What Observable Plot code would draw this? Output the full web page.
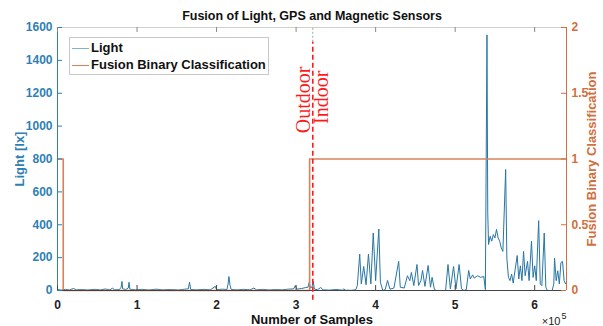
<!DOCTYPE html>
<html><head><meta charset="utf-8">
<script src="https://cdn.jsdelivr.net/npm/d3@7"></script>
<script src="https://cdn.jsdelivr.net/npm/@observablehq/plot@0.6"></script>
<style>
body{margin:0;background:#fff;font-family:"Liberation Sans",Arial,sans-serif;}
#wrap{position:relative;width:603px;height:326px;overflow:hidden;}
.legend{position:absolute;left:69px;top:37px;width:200px;height:38px;border:1px solid #c8c8c8;background:#fff;font-weight:bold;font-size:13px;color:#111;box-sizing:border-box;}
.legend .row{position:absolute;left:2px;height:16px;line-height:16px;white-space:nowrap;}
.legend .sw{display:inline-block;width:17px;height:0;vertical-align:middle;margin-right:2px;}
</style></head><body><div id="wrap"></div>
<script>
const titleText = "Fusion of Light, GPS and Magnetic Sensors";
const xLabel = "Number of Samples";
const yLeftLabel = "Light [lx]";
const yRightLabel = "Fusion Binary Classification";
const seriesNames = ["Light", "Fusion Binary Classification"];
const regionLabels = ["Outdoor", "Indoor"];

// x in units of 10^5 samples
const xTicks = [0, 1, 2, 3, 4, 5, 6];
const leftTicks = [0, 200, 400, 600, 800, 1000, 1200, 1400, 1600];
const rightTicks = [0, 0.5, 1, 1.5, 2];

const lightSamples = [0.00,0.05,0.10,0.15,0.20,0.24,0.30,0.38,0.46,0.54,0.60,0.66,0.69,0.72,0.78,0.80,0.81,0.82,0.86,0.89,0.90,0.91,0.98,1.06,1.15,1.24,1.32,1.42,1.52,1.60,1.645,1.66,1.675,1.75,1.84,1.92,1.985,2.00,2.07,2.13,2.145,2.155,2.17,2.185,2.26,2.34,2.42,2.47,2.50,2.58,2.66,2.74,2.82,2.90,2.97,2.99,3.01,3.07,3.12,3.15,3.165,3.18,3.20,3.215,3.23,3.27,3.31,3.34,3.42,3.50,3.58,3.60,3.62,3.70,3.75,3.77,3.80,3.82,3.85,3.88,3.91,3.94,3.97,4.00,4.04,4.06,4.09,4.12,4.15,4.18,4.23,4.29,4.31,4.36,4.40,4.43,4.45,4.48,4.52,4.54,4.57,4.59,4.62,4.66,4.69,4.71,4.74,4.77,4.88,4.91,4.94,4.98,5.01,5.05,5.08,5.11,5.14,5.17,5.19,5.22,5.24,5.28,5.32,5.36,5.38,5.40,5.41,5.42,5.44,5.46,5.48,5.50,5.52,5.54,5.56,5.58,5.60,5.635,5.65,5.67,5.69,5.71,5.73,5.755,5.78,5.80,5.82,5.84,5.86,5.88,5.91,5.93,5.96,5.98,6.00,6.02,6.05,6.07,6.09,6.12,6.14,6.16,6.22,6.24,6.25,6.27,6.29,6.31,6.33,6.35,6.37,6.39,6.40];
const lightLux = [5,3,7,3,12,4,6,3,7,4,9,4,14,4,6,20,55,10,6,15,50,8,4,7,3,8,4,6,3,8,10,50,6,4,7,4,25,5,8,6,40,85,30,6,4,7,4,15,4,7,3,6,4,8,10,30,8,12,18,20,50,15,22,55,8,5,18,4,2,6,2,10,2,1,5,30,221,40,146,35,221,40,350,60,374,50,0,5,61,8,15,177,20,15,90,60,110,30,158,30,60,122,25,152,20,80,5,0,0,158,10,146,10,158,10,0,5,122,70,95,75,90,80,85,5,1555,472,280,330,300,340,320,372,320,300,258,238,736,197,80,60,100,45,130,213,70,150,60,238,90,177,60,300,80,150,60,425,40,30,350,20,0,0,40,197,60,120,40,170,177,60,40,50];

const classSamples = [0, 0.072, 3.17, 6.4];
const classValues = [1, 0, 1, 1];
const boundarySample = 3.21;

const classToLux = 1600 / 2; // right axis 0..2 shares the frame with left axis 0..1600

const BLUE = "#2f7fb5", LINEBLUE = "#2776a4", ORANGE = "#d0703e", LINEORANGE = "#d9825a";

const light = lightSamples.map((s, i) => ({s, v: lightLux[i]}));
const cls = classSamples.map((s, i) => ({s, v: classValues[i] * classToLux}));

const plot = Plot.plot({
  width: 603, height: 326,
  marginLeft: 57, marginRight: 37, marginTop: 27, marginBottom: 36,
  style: {fontFamily: "Liberation Sans, Arial, sans-serif", fontSize: "12px", background: "white", overflow: "visible"},
  x: {domain: [0, 6.4]},
  y: {domain: [0, 1600]},
  marks: [
    Plot.line(light, {x: "s", y: "v", stroke: LINEBLUE, strokeWidth: 1}),
    Plot.line(cls, {x: "s", y: "v", curve: "step-after", stroke: LINEORANGE, strokeWidth: 1.6}),
    // frame
    Plot.ruleY([1600], {stroke: "#d0d0d0"}),
    Plot.ruleY([0], {stroke: "#444"}),
    Plot.ruleX([0], {stroke: BLUE}),
    Plot.ruleX([6.4], {stroke: ORANGE}),
    // inward ticks
    Plot.tickY(leftTicks, {insetRight: 504, stroke: BLUE}),
    Plot.tickY(rightTicks.map(d => d * classToLux), {insetLeft: 504, stroke: ORANGE}),
    Plot.tickX(xTicks, {insetTop: 258, stroke: "#444"}),
    Plot.tickX(xTicks, {insetBottom: 258, stroke: "#888"}),
    // axes
    Plot.axisX(xTicks, {tickSize: 0, tickPadding: 10, label: null, tickFormat: d => String(d), fill: "#222", fontWeight: "bold", fontSize: 12}),
    Plot.axisY(leftTicks, {anchor: "left", tickSize: 0, tickPadding: 5, label: null, tickFormat: d => String(d), fill: BLUE, fontWeight: "bold", fontSize: 12}),
    Plot.axisY(rightTicks.map(d => d * classToLux), {anchor: "right", tickSize: 0, tickPadding: 5, label: null, tickFormat: d => String(d / classToLux), fill: ORANGE, fontWeight: "bold", fontSize: 12}),
    // boundary
    Plot.ruleX([boundarySample], {y1: 1510, y2: 1600, stroke: "#9aa79a", strokeDasharray: "2,2", strokeWidth: 1}),
    Plot.ruleX([boundarySample], {y1: -60, y2: 1510, stroke: "#ff1a1a", strokeDasharray: "5,3", strokeWidth: 1.6}),
    Plot.text([regionLabels[0]], {x: boundarySample, y: 1160, text: d => d, rotate: -90, dx: -9, fill: "#ff1a1a", fontFamily: "Liberation Serif, Times New Roman, serif", fontSize: 20}),
    Plot.text([regionLabels[1]], {x: boundarySample, y: 1175, text: d => d, rotate: -90, dx: 9, fill: "#ff1a1a", fontFamily: "Liberation Serif, Times New Roman, serif", fontSize: 20}),
    // titles and labels
    Plot.text([titleText], {frameAnchor: "top", dy: -12, textAnchor: "middle", lineAnchor: "middle", fill: "#111", fontWeight: "bold", fontSize: 12.5}),
    Plot.text([xLabel], {frameAnchor: "bottom", dy: 29, textAnchor: "middle", lineAnchor: "middle", fill: "#111", fontWeight: "bold", fontSize: 13}),
    Plot.text([yLeftLabel], {frameAnchor: "left", dx: -38, rotate: -90, textAnchor: "middle", lineAnchor: "middle", fill: BLUE, fontWeight: "bold", fontSize: 13}),
    Plot.text([yRightLabel], {frameAnchor: "right", dx: 25, rotate: -90, textAnchor: "middle", lineAnchor: "middle", fill: ORANGE, fontWeight: "bold", fontSize: 13}),
    Plot.text(["×10"], {frameAnchor: "bottom-right", dx: -6, dy: 31, textAnchor: "end", lineAnchor: "middle", fill: "#222", fontSize: 11}),
    Plot.text(["5"], {frameAnchor: "bottom-right", dx: -5, dy: 26, textAnchor: "start", lineAnchor: "middle", fill: "#222", fontSize: 9})
  ]
});

const wrap = document.getElementById("wrap");
wrap.appendChild(plot);

const legend = document.createElement("div");
legend.className = "legend";
legend.innerHTML =
  `<div class="row" style="top:2px"><span class="sw" style="border-top:1.5px solid #7fb3d3"></span>${seriesNames[0]}</div>` +
  `<div class="row" style="top:19px"><span class="sw" style="border-top:1.8px solid ${LINEORANGE}"></span>${seriesNames[1]}</div>`;
wrap.appendChild(legend);
</script>
</body></html>
